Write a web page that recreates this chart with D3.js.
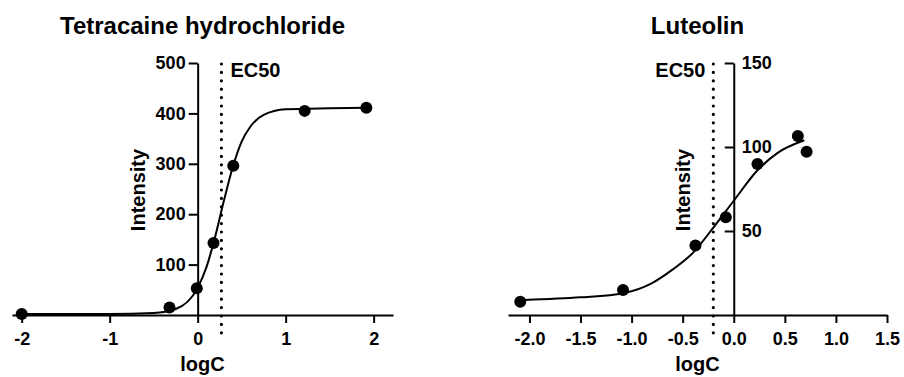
<!DOCTYPE html>
<html>
<head>
<meta charset="utf-8">
<script src="https://cdn.jsdelivr.net/npm/d3@7"></script>
<style>
  body { margin: 0; background: #fff; }
  svg text { font-family: "Liberation Sans", Arial, sans-serif; font-weight: bold; fill: #000; }
</style>
</head>
<body>
<svg id="chart" width="904" height="377"></svg>
<script>
// Tetracaine hydrochloride: measured points
const tetraLogC = [-2, -0.32, -0.01, 0.18, 0.405, 1.216, 1.917];
const tetraIntensity = [2, 15, 53, 143, 296, 405, 411];
// fitted curve
const tetraCurveLogC = [-2, -1.5, -1, -0.5, -0.25, 0, 0.1, 0.2, 0.3, 0.4, 0.5, 0.6, 0.75, 1.0, 1.5, 1.92];
const tetraCurveIntensity = [2, 2, 2, 4, 12, 54, 95, 156, 228, 294, 344, 374, 397, 408, 410, 411];
const tetraEC50 = 0.27;
const tetraXTicks = [-2, -1, 0, 1, 2];
const tetraYTicks = [100, 200, 300, 400, 500];

// Luteolin
const lutLogC = [-2.09, -1.084, -0.375, -0.078, 0.232, 0.627, 0.713];
const lutIntensity = [7.9, 14.9, 41.3, 58.2, 89.9, 106.5, 97.2];
const lutCurveLogC = [-2.05, -1.5, -1.08, -0.8, -0.6, -0.4, -0.2, 0, 0.23, 0.43, 0.69];
const lutCurveIntensity = [9, 10.5, 13, 19, 27, 37, 52, 68, 86, 96.5, 104];
const lutEC50 = -0.2;
const lutXTicks = [-2.0, -1.5, -1.0, -0.5, 0.0, 0.5, 1.0, 1.5];
const lutYTicks = [50, 100, 150];

const svg = d3.select("#chart");

function drawPanel(p) {
  const g = svg.append("g");
  const x = d3.scaleLinear().domain(p.xDomain).range(p.xRange);
  const y = d3.scaleLinear().domain(p.yDomain).range([315, 63]);

  // title
  g.append("text")
    .attr("x", (p.xRange[0] + p.xRange[1]) / 2)
    .attr("y", 34)
    .attr("text-anchor", "middle")
    .style("font-size", "24px")
    .text(p.title);

  // EC50 dotted line
  g.append("line")
    .attr("x1", x(p.ec50)).attr("x2", x(p.ec50))
    .attr("y1", 64).attr("y2", 334)
    .attr("stroke", "#000")
    .attr("stroke-width", 3.2)
    .attr("stroke-linecap", "round")
    .attr("stroke-dasharray", "0 8.4");

  g.append("text")
    .attr("x", x(p.ec50) + (p.ec50Anchor === "start" ? 9 : -8))
    .attr("y", 77)
    .attr("text-anchor", p.ec50Anchor)
    .style("font-size", "20px")
    .text("EC50");

  // x axis
  const xAxis = g.append("g")
    .attr("transform", "translate(0,315)")
    .call(d3.axisBottom(x).tickValues(p.xTicks).tickSize(8).tickSizeOuter(0).tickFormat(p.xFormat));
  xAxis.select(".domain").attr("stroke-width", 2);
  xAxis.selectAll(".tick line").attr("stroke-width", 2);
  xAxis.selectAll(".tick text").attr("dy", "0.71em").attr("y", 17)
    .style("font-size", "18px").attr("fill", "#000");

  // y axis
  const yAxis = g.append("g")
    .attr("transform", `translate(${x(0)},0)`)
    .call(d3.axisLeft(y).tickValues(p.yTicks).tickSize(9).tickSizeOuter(0));
  yAxis.select(".domain").attr("stroke-width", 2);
  yAxis.selectAll(".tick line").attr("stroke-width", 2);
  const yt = yAxis.selectAll(".tick text").style("font-size", "18px").attr("fill", "#000");
  if (p.yLabelsRight) yt.attr("x", 8).attr("text-anchor", "start");
  else yt.attr("x", -12);

  // axis titles
  g.append("text")
    .attr("x", (p.xRange[0] + p.xRange[1]) / 2)
    .attr("y", 371)
    .attr("text-anchor", "middle")
    .style("font-size", "20px")
    .text("logC");

  g.append("text")
    .attr("transform", `translate(${p.yTitleX},190) rotate(-90)`)
    .attr("text-anchor", "middle")
    .style("font-size", "20px")
    .text("Intensity");

  // fitted curve
  const curve = p.curveX.map((d, i) => [d, p.curveY[i]]);
  g.append("path")
    .datum(curve)
    .attr("fill", "none")
    .attr("stroke", "#000")
    .attr("stroke-width", 2)
    .attr("d", d3.line().x(d => x(d[0])).y(d => y(d[1])).curve(d3.curveMonotoneX));

  // points
  g.selectAll(".pt")
    .data(p.ptX.map((d, i) => [d, p.ptY[i]]))
    .enter()
    .append("circle")
    .attr("class", "pt")
    .attr("cx", d => x(d[0]))
    .attr("cy", d => y(d[1]))
    .attr("r", 6)
    .attr("fill", "#000");
}

drawPanel({
  title: "Tetracaine hydrochloride",
  xDomain: [-2.11, 2.22], xRange: [12, 393],
  yDomain: [0, 500],
  xTicks: tetraXTicks, yTicks: tetraYTicks,
  xFormat: d => String(d),
  ptX: tetraLogC, ptY: tetraIntensity,
  curveX: tetraCurveLogC, curveY: tetraCurveIntensity,
  ec50: tetraEC50, ec50Anchor: "start",
  yLabelsRight: false,
  yTitleX: 145
});

drawPanel({
  title: "Luteolin",
  xDomain: [-2.21, 1.5], xRange: [508, 887],
  yDomain: [0, 150],
  xTicks: lutXTicks, yTicks: lutYTicks,
  xFormat: d => d.toFixed(1),
  ptX: lutLogC, ptY: lutIntensity,
  curveX: lutCurveLogC, curveY: lutCurveIntensity,
  ec50: lutEC50, ec50Anchor: "end",
  yLabelsRight: true,
  yTitleX: 690
});
</script>
</body>
</html>
